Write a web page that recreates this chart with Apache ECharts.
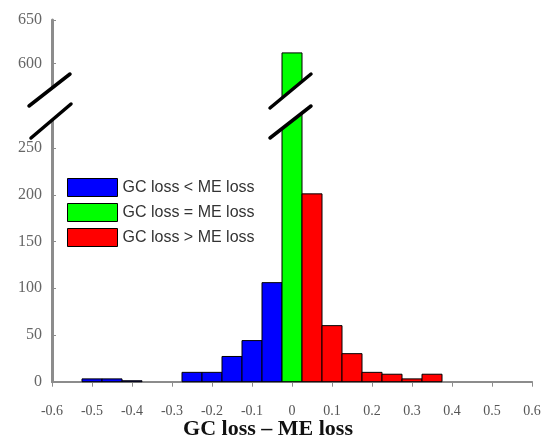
<!DOCTYPE html>
<html>
<head>
<meta charset="utf-8">
<script src="https://cdn.jsdelivr.net/npm/echarts@6/dist/echarts.min.js"></script>
<style>
  html, body { margin: 0; background: #fff; }
  #chart { width: 548px; height: 446px; }
</style>
</head>
<body>
<div id="chart"></div>
<script>
// bin centres and counts
const binWidth = 0.05;
const lessBins = [-0.5, -0.45, -0.4, -0.35, -0.3, -0.25, -0.2, -0.15, -0.1, -0.05];
const lessCounts = [3, 3, 1, 0, 0, 10, 10, 27, 44, 106];
const equalBins = [0];
const equalCounts = [612];
const greaterBins = [0.05, 0.1, 0.15, 0.2, 0.25, 0.3, 0.35];
const greaterCounts = [201, 60, 30, 10, 8, 3, 8];

const lowerTicks = [0, 50, 100, 150, 200, 250];
const upperTicks = [600, 650];

const groups = [
  { name: 'GC loss < ME loss', color: '#0000ff', bins: lessBins, counts: lessCounts },
  { name: 'GC loss = ME loss', color: '#00ff00', bins: equalBins, counts: equalCounts },
  { name: 'GC loss > ME loss', color: '#ff0000', bins: greaterBins, counts: greaterCounts }
];

const chart = echarts.init(document.getElementById('chart'));

// one rect per bin, clipped to its own grid
function renderBin(params, api) {
  const x = api.value(0);
  const v = api.value(1);
  if (!v) return;
  const p0 = api.coord([x - binWidth / 2, v]);
  const p1 = api.coord([x + binWidth / 2, 0]);
  const shape = echarts.graphic.clipRectByRect({
    x: p0[0], y: p0[1], width: p1[0] - p0[0], height: p1[1] - p0[1]
  }, params.coordSys);
  if (!shape) return;
  return {
    type: 'rect',
    shape: shape,
    style: { fill: api.visual('color'), stroke: '#000', lineWidth: 1 }
  };
}

const axisGray = '#8c8c8c';
const yLabel = { fontFamily: 'Liberation Serif', fontSize: 16, color: '#666', margin: 10 };

const series = [];
groups.forEach(g => {
  [0, 1].forEach(idx => {
    series.push({
      name: g.name,
      type: 'custom',
      xAxisIndex: idx,
      yAxisIndex: idx,
      itemStyle: { color: g.color },
      renderItem: renderBin,
      data: g.bins.map((b, i) => [b, g.counts[i]])
    });
  });
});

const breakW = '#fff';
chart.setOption({
  animation: false,
  backgroundColor: '#fff',
  legend: {
    data: groups.map(g => ({ name: g.name, icon: 'rect' })),
    orient: 'vertical',
    left: 67,
    top: 178,
    padding: 0,
    itemWidth: 50,
    itemHeight: 18,
    itemGap: 6,
    itemStyle: { borderColor: '#000', borderWidth: 1 },
    textStyle: { fontFamily: 'Liberation Sans', fontSize: 16, color: '#333' }
  },
  grid: [
    { left: 52, right: 16, top: 110.7, bottom: 64.3 },
    { left: 52, right: 16, top: 20, height: 82.3 }
  ],
  xAxis: [
    {
      type: 'value', gridIndex: 0, min: -0.6, max: 0.6, interval: 0.1,
      axisLine: { onZero: false, lineStyle: { color: axisGray, width: 2 } },
      axisTick: { length: 5, lineStyle: { color: axisGray } },
      splitLine: { show: false },
      axisLabel: {
        fontFamily: 'Liberation Serif', fontSize: 14, color: '#555', margin: 23,
        formatter: v => {
          const r = Math.round(v * 10) / 10;
          return r === 0 ? '0' : r.toFixed(1);
        }
      }
    },
    { type: 'value', gridIndex: 1, min: -0.6, max: 0.6, show: false }
  ],
  yAxis: [
    {
      type: 'value', gridIndex: 0, min: 0, max: 290,
      axisLine: { show: true, onZero: false, lineStyle: { color: axisGray, width: 3 } },
      axisTick: { show: true, inside: true, length: 4, customValues: lowerTicks, lineStyle: { color: axisGray } },
      axisLabel: Object.assign({ customValues: lowerTicks }, yLabel),
      splitLine: { show: false }
    },
    {
      type: 'value', gridIndex: 1, min: 555, max: 650,
      axisLine: { show: true, onZero: false, lineStyle: { color: axisGray, width: 3 } },
      axisTick: { show: true, inside: true, length: 4, customValues: upperTicks, lineStyle: { color: axisGray } },
      axisLabel: Object.assign({ customValues: upperTicks }, yLabel),
      splitLine: { show: false }
    }
  ],
  series: series,
  graphic: [
    // axis break
    { type: 'polygon', z: 100, shape: { points: [[29, 106], [70, 74], [71, 104], [31, 138]] }, style: { fill: breakW } },
    { type: 'line', z: 101, shape: { x1: 29, y1: 106, x2: 70, y2: 74 }, style: { stroke: '#000', lineWidth: 3.5, lineCap: 'round' } },
    { type: 'line', z: 101, shape: { x1: 31, y1: 138, x2: 71, y2: 104 }, style: { stroke: '#000', lineWidth: 3.5, lineCap: 'round' } },
    // bar break
    { type: 'polygon', z: 100, shape: { points: [[270, 108], [311, 74], [311, 106], [270, 138]] }, style: { fill: breakW } },
    { type: 'line', z: 101, shape: { x1: 270, y1: 108, x2: 311, y2: 74 }, style: { stroke: '#000', lineWidth: 3.5, lineCap: 'round' } },
    { type: 'line', z: 101, shape: { x1: 270, y1: 138, x2: 311, y2: 106 }, style: { stroke: '#000', lineWidth: 3.5, lineCap: 'round' } },
    {
      type: 'text', z: 100,
      style: {
        x: 268, y: 429, text: 'GC loss – ME loss', textAlign: 'center', textVerticalAlign: 'middle',
        font: 'bold 22px "Liberation Serif"', fill: '#111'
      }
    }
  ]
});
</script>
</body>
</html>
